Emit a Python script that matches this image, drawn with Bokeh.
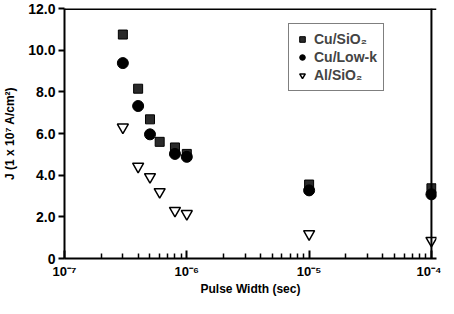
from bokeh.plotting import figure
from bokeh.models import FixedTicker, CustomJSTickFormatter, Legend, LegendItem, Range1d, Span
from bokeh.embed import file_html
from bokeh.resources import INLINE

# data
cu_sio2_x = [3e-7, 4e-7, 5e-7, 6e-7, 8e-7, 1e-6, 1e-5, 1e-4]
cu_sio2_y = [10.75, 8.15, 6.68, 5.6, 5.33, 5.02, 3.55, 3.37]
cu_lowk_x = [3e-7, 4e-7, 5e-7, 8e-7, 1e-6, 1e-5, 1e-4]
cu_lowk_y = [9.38, 7.32, 5.96, 5.02, 4.88, 3.27, 3.08]
al_sio2_x = [3e-7, 4e-7, 5e-7, 6e-7, 8e-7, 1e-6, 1e-5, 1e-4]
al_sio2_y = [6.3, 4.42, 3.92, 3.2, 2.3, 2.15, 1.18, 0.86]
x_ticks = [1e-7, 1e-6, 1e-5, 1e-4]
y_ticks = [0, 2, 4, 6, 8, 10, 12]
x_min, x_max = 1e-7, 1e-4
y_min, y_max = 0, 12

FONT = "Liberation Sans"

p = figure(frame_width=372, frame_height=250, x_axis_type="log", output_backend="svg",
           toolbar_location=None, x_range=Range1d(x_min, x_max * 1.1), y_range=Range1d(y_min, y_max),
           min_border_left=55, min_border_top=7, min_border_right=5, min_border_bottom=0,
           title=" ")
p.title.text_font_size = "6px"
p.title.standoff = 0
p.background_fill_color = "white"
p.border_fill_color = "white"
p.outline_line_color = None
p.xgrid.visible = False
p.ygrid.visible = False

# frame edges: right border at 1e-4, top at 12
p.add_layout(Span(location=x_max, dimension="height", line_color="black", line_alpha=1, line_width=2))
p.add_layout(Span(location=y_max, dimension="width", line_color="black", line_alpha=1, line_width=3))

minor = []
for e in range(-7, -4):
    for m in range(2, 10):
        minor.append(m * 10.0 ** e)
p.xaxis.ticker = FixedTicker(ticks=x_ticks, minor_ticks=minor)
p.xaxis.formatter = CustomJSTickFormatter(code="""
const sup = {'-':'\u207b','0':'\u2070','1':'\u00b9','2':'\u00b2','3':'\u00b3','4':'\u2074','5':'\u2075','6':'\u2076','7':'\u2077','8':'\u2078','9':'\u2079'};
const e = String(Math.round(Math.log10(tick)));
let s = '';
for (const c of e) { s += sup[c]; }
return '10' + s;
""")
p.yaxis.ticker = FixedTicker(ticks=y_ticks)
p.yaxis.major_label_overrides = {0: "0", 2: "2.0", 4: "4.0", 6: "6.0", 8: "8.0", 10: "10.0", 12: "12.0"}

for ax in (p.xaxis[0], p.yaxis[0]):
    ax.axis_line_width = 2
    ax.axis_line_color = "black"
    ax.major_tick_line_width = 2
    ax.minor_tick_line_width = 1.5
    ax.major_label_text_font = FONT
    ax.major_label_text_font_style = "bold"
    ax.major_label_text_color = "black"
    ax.axis_label_text_font = FONT
    ax.axis_label_text_font_style = "bold"
    ax.axis_label_text_font_size = "12px"
    ax.axis_label_text_color = "black"

p.xaxis.major_label_text_font_size = "13px"
p.xaxis.major_tick_in = 8
p.xaxis.major_tick_out = 0
p.xaxis.minor_tick_in = 5
p.xaxis.minor_tick_out = 0
p.xaxis.major_label_standoff = 5
p.xaxis.axis_label = "Pulse Width (sec)"
p.xaxis.axis_label_standoff = 0

p.yaxis.major_label_text_font_size = "14px"
p.yaxis.major_tick_in = 0
p.yaxis.major_tick_out = 6
p.yaxis.minor_tick_line_color = None
p.yaxis.major_label_standoff = 3
p.yaxis.axis_label = "J (1 x 10\u2077 A/cm\u00b2)"
p.yaxis.axis_label_standoff = 8

r1 = p.scatter(cu_sio2_x, cu_sio2_y, marker="square", size=9, fill_color="#2a2a2a", line_color="black", line_width=1)
r2 = p.scatter(cu_lowk_x, cu_lowk_y, marker="circle", size=11, fill_color="black", line_color="black")
r3 = p.scatter(al_sio2_x, al_sio2_y, marker="inverted_triangle", size=11, fill_color="white", line_color="black", line_width=1.5)

legend = Legend(items=[
    LegendItem(label="Cu/SiO\u2082", renderers=[r1]),
    LegendItem(label="Cu/Low-k", renderers=[r2]),
    LegendItem(label="Al/SiO\u2082", renderers=[r3]),
], location=(224, 167))
legend.border_line_color = "black"
legend.border_line_width = 1.5
legend.label_text_font = FONT
legend.label_text_font_style = "bold"
legend.label_text_font_size = "14px"
legend.spacing = 0
legend.padding = 6
legend.glyph_width = 14
legend.label_height = 18
legend.glyph_height = 18
legend.label_standoff = 5
legend.background_fill_alpha = 1
p.add_layout(legend, "center")

open("out.html", "w").write(file_html(p, INLINE))
